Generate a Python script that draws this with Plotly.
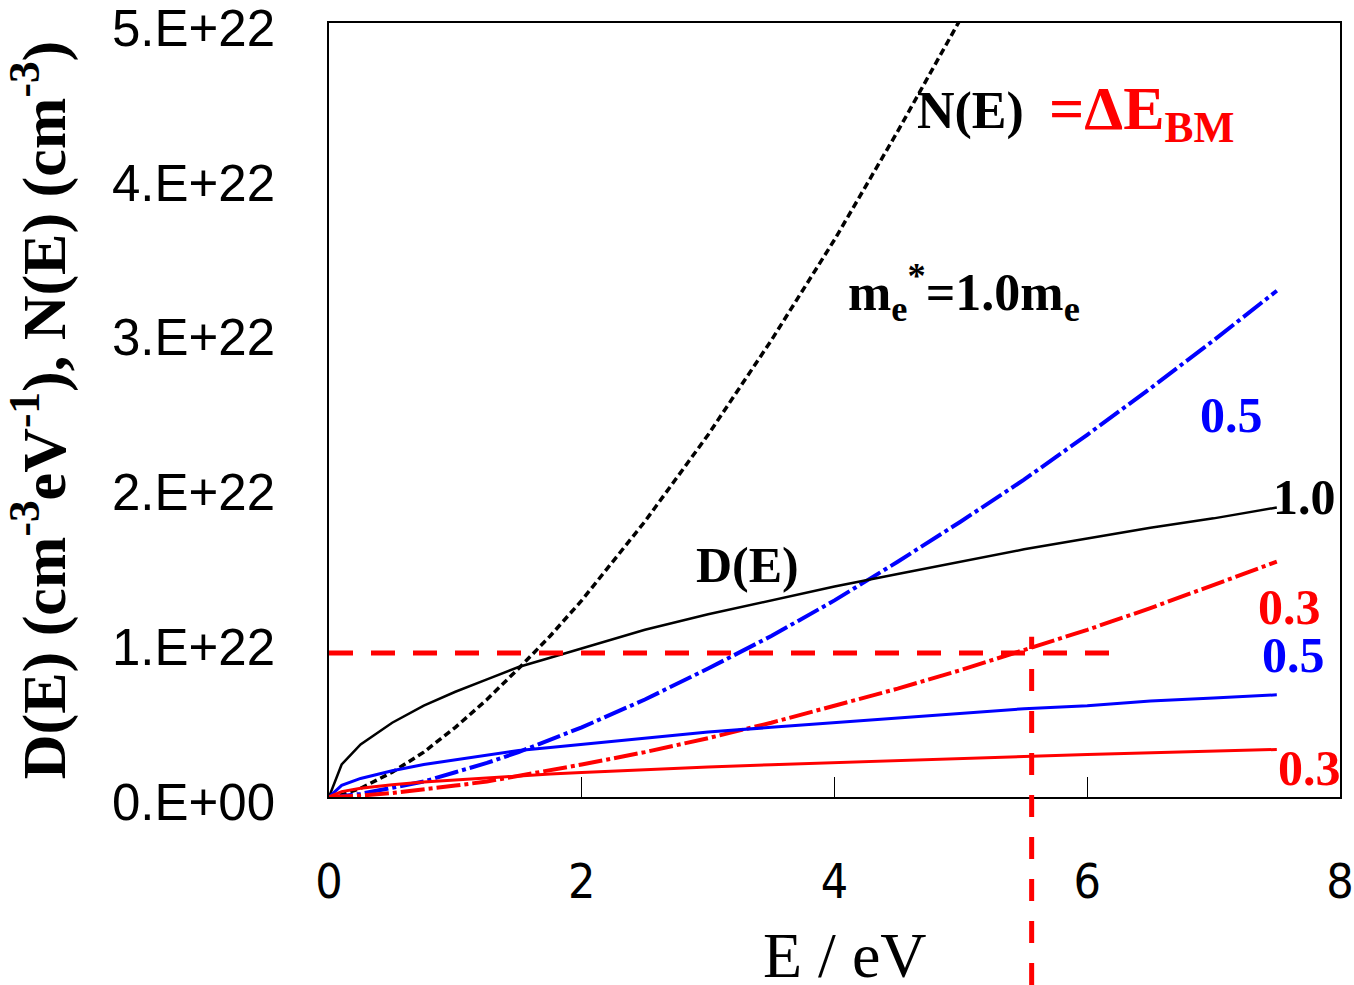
import plotly.graph_objects as go

SCALE = 1e22

# Energy grid (eV)
energy = [0, 0.1, 0.25, 0.5, 0.75, 1.0, 1.25, 1.5, 1.75, 2.0, 2.5, 3.0, 3.5, 4.0, 4.5, 5.0, 5.5, 6.0, 6.5, 7.0, 7.5]

# D(E) in 1e22 cm^-3 eV^-1
d_m10 = [0, 0.21, 0.34, 0.48, 0.59, 0.68, 0.76, 0.84, 0.90, 0.96, 1.08, 1.18, 1.27, 1.36, 1.44, 1.52, 1.60, 1.67, 1.74, 1.80, 1.87]
d_m05 = [0, 0.075, 0.12, 0.17, 0.21, 0.24, 0.27, 0.30, 0.32, 0.34, 0.38, 0.42, 0.45, 0.48, 0.51, 0.54, 0.57, 0.59, 0.62, 0.64, 0.66]
d_m03 = [0, 0.035, 0.056, 0.079, 0.097, 0.11, 0.125, 0.138, 0.148, 0.158, 0.177, 0.194, 0.209, 0.223, 0.236, 0.249, 0.262, 0.274, 0.285, 0.296, 0.307]

# N(E) in 1e22 cm^-3
energy_n10 = [0, 0.1, 0.25, 0.5, 0.75, 1.0, 1.25, 1.5, 1.75, 2.0, 2.5, 3.0, 3.5, 4.0, 4.5, 5.0]
n_m10 = [0, 0.014, 0.056, 0.16, 0.29, 0.45, 0.63, 0.83, 1.04, 1.27, 1.78, 2.34, 2.95, 3.60, 4.30, 5.03]
n_m05 = [0, 0.005, 0.02, 0.057, 0.10, 0.16, 0.22, 0.29, 0.37, 0.45, 0.63, 0.83, 1.04, 1.27, 1.52, 1.78, 2.05, 2.34, 2.64, 2.95, 3.27]
n_m03 = [0, 0.002, 0.009, 0.026, 0.048, 0.074, 0.10, 0.136, 0.17, 0.21, 0.29, 0.38, 0.48, 0.59, 0.70, 0.82, 0.95, 1.08, 1.22, 1.37, 1.52]

# Reference (Burstein-Moss) markers
bm_level = 0.93      # 1e22 cm^-3
bm_energy = 5.56     # eV
bm_hline_end = 6.2   # eV

y_tickvals = [0, 1, 2, 3, 4, 5]
y_ticktext = ["0.E+00", "1.E+22", "2.E+22", "3.E+22", "4.E+22", "5.E+22"]
x_tickvals = [0, 2, 4, 6, 8]

BLACK = "#000000"
BLUE = "#0000FF"
RED = "#FF0000"

fig = go.Figure()

def sc(v):
    return [a * SCALE for a in v]

fig.add_trace(go.Scatter(x=energy_n10, y=sc(n_m10), mode="lines",
                         line=dict(color=BLACK, width=3.5, dash="7px,4px")))
fig.add_trace(go.Scatter(x=energy, y=sc(n_m05), mode="lines",
                         line=dict(color=BLUE, width=4, dash="24px,4px,4px,4px")))
fig.add_trace(go.Scatter(x=energy, y=sc(n_m03), mode="lines",
                         line=dict(color=RED, width=4, dash="24px,4px,4px,4px")))
fig.add_trace(go.Scatter(x=energy, y=sc(d_m10), mode="lines",
                         line=dict(color=BLACK, width=2.5)))
fig.add_trace(go.Scatter(x=energy, y=sc(d_m05), mode="lines",
                         line=dict(color=BLUE, width=3)))
fig.add_trace(go.Scatter(x=energy, y=sc(d_m03), mode="lines",
                         line=dict(color=RED, width=3)))

# BM dashed guide lines
fig.add_shape(type="line", xref="x", yref="y", x0=0, x1=bm_hline_end,
              y0=bm_level * SCALE, y1=bm_level * SCALE,
              line=dict(color=RED, width=5, dash="24px,18px"))
fig.add_shape(type="line", xref="x", yref="paper", x0=bm_energy, x1=bm_energy,
              y0=-0.243, y1=0.207,
              line=dict(color=RED, width=5, dash="22px,20px"))

SERIF = "Liberation Serif, Times New Roman, serif"

def ann(text, x, y, color, size, xanchor="center"):
    fig.add_annotation(text=text, x=x, y=y * SCALE, xref="x", yref="y",
                       showarrow=False, xanchor=xanchor, yanchor="middle",
                       font=dict(family=SERIF, size=size, color=color))

ann("<b>N(E)</b>", 5.08, 4.43, BLACK, 52)
ann("<b>=ΔE<sub>BM</sub></b>", 5.68, 4.42, RED, 62, xanchor="left")
ann("<b>m<sub>e</sub><sup>*</sup>=1.0m<sub>e</sub></b>", 4.09, 3.26, BLACK, 52, xanchor="left")
ann("<b>0.5</b>", 7.14, 2.47, BLUE, 50)
ann("<b>1.0</b>", 7.72, 1.94, BLACK, 50)
ann("<b>D(E)</b>", 3.31, 1.50, BLACK, 50)
ann("<b>0.3</b>", 7.60, 1.23, RED, 50)
ann("<b>0.5</b>", 7.63, 0.92, BLUE, 50)
ann("<b>0.3</b>", 7.76, 0.19, RED, 50)

# x-axis title placed as a paper-anchored label
fig.add_annotation(text="E / eV", x=0.5104, y=-0.2045, xref="paper", yref="paper",
                   showarrow=False, xanchor="center", yanchor="middle",
                   font=dict(family=SERIF, size=64, color=BLACK))

fig.update_layout(
    width=1354, height=985,
    margin=dict(l=329, r=14, t=23, b=188, autoexpand=False),
    paper_bgcolor="white", plot_bgcolor="white",
    showlegend=False,
    xaxis=dict(
        range=[0, 8], tickvals=x_tickvals, ticks="inside", ticklen=20,
        tickcolor=BLACK, tickwidth=1,
        showline=True, linecolor=BLACK, linewidth=1.5, mirror=True,
        showgrid=False, zeroline=False, ticklabeloverflow="allow",
        tickfont=dict(family="Liberation Sans Narrow, DejaVu Sans Condensed, Arial Narrow, Liberation Sans",
                      size=48, color=BLACK),
        ticklabelstandoff=42,
    ),
    yaxis=dict(
        range=[0, 5 * SCALE], tickvals=[v * SCALE for v in y_tickvals], ticktext=y_ticktext,
        ticks="", showline=True, linecolor=BLACK, linewidth=1.5, mirror=True,
        showgrid=False, zeroline=False, ticklabeloverflow="allow",
        tickfont=dict(family="Liberation Sans, Arial", size=51, color=BLACK),
        ticklabelstandoff=42, ticklabelshift=5,
        title=dict(text="<b>D(E) (cm<sup>-3</sup>eV<sup>-1</sup>), N(E) (cm<sup>-3</sup>)</b>",
                   font=dict(family=SERIF, size=62, color=BLACK), standoff=40),
    ),
)

fig.write_html("out.html", config={"displayModeBar": False},
               post_script="document.body.style.margin='0';document.body.style.overflow='hidden';")
